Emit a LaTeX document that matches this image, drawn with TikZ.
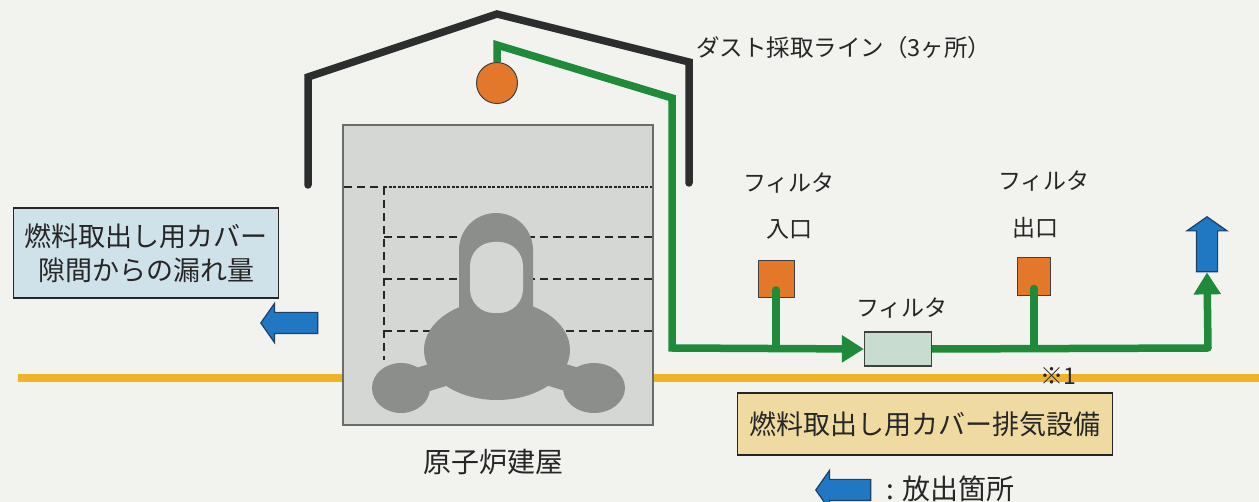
\documentclass[tikz,border=0pt]{standalone}
\usepackage{fontspec}
\setmainfont{Noto Sans CJK JP}
\usepackage{xcolor}
\usetikzlibrary{arrows.meta, shapes.arrows}

\definecolor{paper}{HTML}{F2F3EF}
\definecolor{roof}{HTML}{2B2E2C}
\definecolor{pipe}{HTML}{1F8A3A}
\definecolor{sampler}{HTML}{E4782A}
\definecolor{vent}{HTML}{1F78C1}
\definecolor{ventedge}{HTML}{1D3F6A}
\definecolor{hall}{HTML}{D5D7D4}
\definecolor{halledge}{HTML}{6A6C6A}
\definecolor{vessel}{HTML}{8C8E8C}
\definecolor{grade}{HTML}{EFB426}
\definecolor{leakbox}{HTML}{CFE2E9}
\definecolor{exhbox}{HTML}{EFDBA2}
\definecolor{filt}{HTML}{C8DCCF}

\tikzset{
    pipe/.style={draw=pipe, line width=7.5pt},
    flow/.style={pipe, -{Triangle[length=22pt, width=26pt]}},
    port/.style={draw=black!75, fill=sampler, line width=1pt, minimum width=36pt, minimum height=37pt, inner sep=0pt},
    release/.style={single arrow, single arrow tip angle=110, draw=ventedge, fill=vent, line width=1.2pt, inner sep=10pt},
    lbl/.style={font=\fontsize{23}{26}\selectfont, inner sep=0pt, text=black!85},
    tag/.style={draw=black!85, line width=1.5pt, inner sep=0pt, font=\fontsize{27}{34}\selectfont, align=center, text=black!85},
    cut/.style={black!85, line width=1.5pt, dash pattern=on 8pt off 5pt},
}

\begin{document}
\begin{tikzpicture}[x=1pt, y=-1pt]
        \useasboundingbox (0,0) rectangle (1259,502);
        \fill[paper] (0,0) rectangle (1259,502);

        % ground level
        \draw[grade, line width=8pt] (18,378) -- (350,378);
        \draw[grade, line width=8pt] (640,378) -- (1259,378);

        % reactor building
        \node[draw=halledge, fill=hall, line width=2.5pt, minimum width=310pt, minimum height=300pt, inner sep=0pt] (bldg) at (498,275) {};
        \node[lbl, font=\fontsize{28}{30}\selectfont] (bldgname) at (493,462) {原子炉建屋};
        \draw[cut] (344,187) -- (384,187);
        \draw[black!85, line width=1.5pt, dash pattern=on 3pt off 1.5pt] (384,187) -- (652,187);
        \draw[cut] (384,187) -- (384,360);
        \foreach \y in {237,279,331}
            \draw[cut] (384,\y) -- (652,\y);

        % reactor
        \fill[vessel, rounded corners=37pt] (459,213) rectangle (533,360);
        \fill[vessel] (497,350) ellipse [x radius=73pt, y radius=50pt];
        \fill[vessel] (401,388) ellipse [x radius=29pt, y radius=25pt];
        \fill[vessel] (594,388) ellipse [x radius=31pt, y radius=25pt];
        \draw[vessel, line width=26pt] (405,385) -- (480,362);
        \draw[vessel, line width=26pt] (590,385) -- (515,362);
        \fill[hall, rounded corners=24pt] (470,242) rectangle (523,313);

        % fuel removal cover
        \draw[roof, line width=7.5pt, line cap=round] (308,185) -- (308,77) -- (497,14) -- (689,62) -- (689,183);

        % dust sampling line
        \node[circle, draw=black!75, fill=sampler, line width=1pt, minimum size=41pt, inner sep=0pt] (smp) at (497,83) {};
        \node[lbl, anchor=west, font=\fontsize{23.5}{26}\selectfont] (linename) at (696,48) {ダスト採取ライン（3ヶ所）};
        \node[draw=black!75, fill=filt, line width=1.2pt, minimum width=67pt, minimum height=34pt, inner sep=0pt] (filter) at (898,349) {};
        \node[lbl] (filtername) at (902,308) {フィルタ};
        \node[port] (inlet) at (776,279) {};
        \node[port, minimum width=33pt, minimum height=38pt] (outlet) at (1034,277) {};
        \node[lbl] (inname) at (789,183) {フィルタ};
        \node[lbl] (inname2) at (789,229) {入口};
        \node[lbl] (outname) at (1044,181) {フィルタ};
        \node[lbl] (outname2) at (1035,228) {出口};
        \node[lbl] (note) at (1058,376) {※1};

        \coordinate (p1) at (497,45);
        \coordinate (p2) at (672,98);
        \coordinate (p3) at (672,348);
        \coordinate (p4) at (1208,348);
        \node[release, shape border rotate=90, minimum height=55pt, single arrow head extend=9.5pt] (stack) at (1207,248) {};

        \draw[flow] (smp.north) -- (p1) -- (p2) -- (p3) -- (filter.west);
        \draw[pipe, line cap=round] (inlet |- p3) -- ([yshift=8pt]inlet.south);
        \draw[pipe, line cap=round] (outlet |- p4) -- ([yshift=8pt]outlet.south);
        \draw[flow, line join=round] (filter.east) -- (p4) -- (stack.tail);

        % leakage and exhaust
        \node[tag, fill=leakbox, minimum width=265pt, minimum height=90pt] (leak) at (146,253) {燃料取出し用カバー\\隙間からの漏れ量};
        \node[release, shape border rotate=180, minimum height=57pt, single arrow head extend=9pt] (leakout) at (293,323) {};
        \node[tag, fill=exhbox, minimum width=375pt, minimum height=62pt] (exhaust) at (925,424) {燃料取出し用カバー排気設備};

        % legend
        \node[release, shape border rotate=180, minimum height=55pt, single arrow head extend=9pt] (key) at (847,490) {};
        \node[lbl, anchor=west, font=\fontsize{28}{30}\selectfont] (keyname) at (886,489) {: 放出箇所};
\end{tikzpicture}
\end{document}
